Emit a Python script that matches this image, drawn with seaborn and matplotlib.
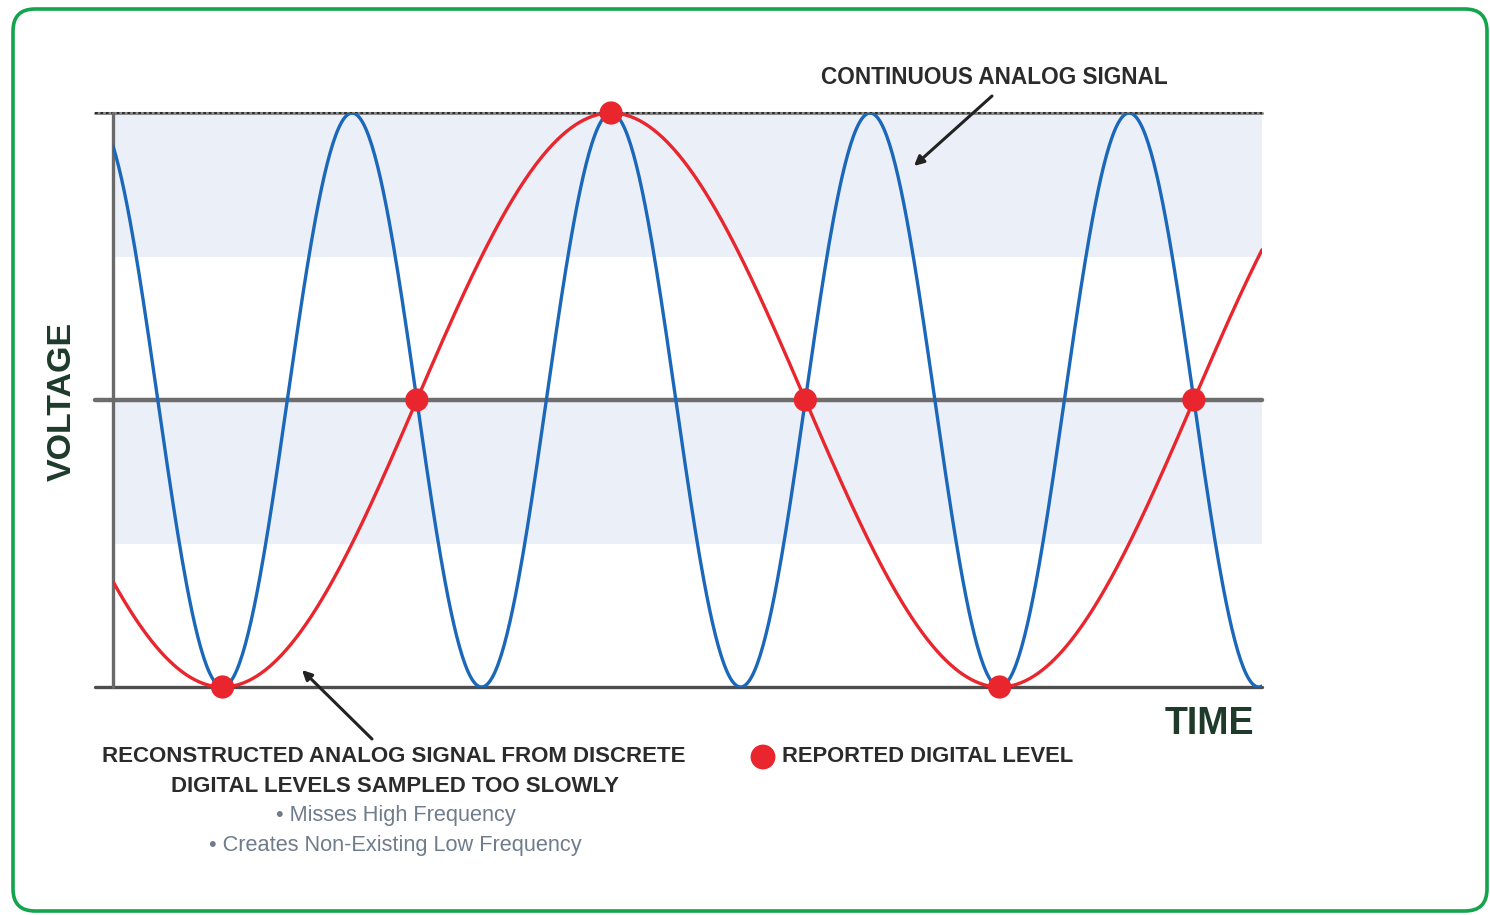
import matplotlib.pyplot as plt
import matplotlib.patches as mpatches
import numpy as np
import pandas as pd
import seaborn as sns

# signal description (time in periods of the analog signal)
t_end = 4.436
analog_freq = 1.0
analog_peak = 0.923          # time of first maximum
alias_freq = 1.0 / 3.0
alias_trough = 0.423         # time of first minimum of reconstructed signal

# samples taken too slowly
sample_times = [0.423, 1.173, 1.923, 2.673, 3.423, 4.173]
sample_levels = [-1, 0, 1, 0, -1, 0]

# voltage bands (shaded)
bands = [(0.5, 1.0), (-0.5, 0.0)]

title_top = "CONTINUOUS ANALOG SIGNAL"
recon_lines = ["RECONSTRUCTED ANALOG SIGNAL FROM DISCRETE",
               "DIGITAL LEVELS SAMPLED TOO SLOWLY"]
bullets = ["• Misses High Frequency", "• Creates Non-Existing Low Frequency"]
legend_label = "REPORTED DIGITAL LEVEL"

BLUE = "#1b67b9"
RED = "#e9262e"
TXT = "#2b2b2b"
LABEL = "#1d3a2a"

sns.set_theme(style="white")
plt.rcParams['font.family'] = ['Liberation Sans', 'DejaVu Sans']

t = np.linspace(0, t_end, 800)
df = pd.DataFrame({
    "time": t,
    "analog": np.cos(2 * np.pi * analog_freq * (t - analog_peak)),
    "recon": -np.cos(2 * np.pi * alias_freq * (t - alias_trough)),
})
samples = pd.DataFrame({"time": sample_times, "level": sample_levels})

W, H = 1490, 915
fig = plt.figure(figsize=(W / 100, H / 100), dpi=100)

# pixel canvas behind the plot: frame and labels
cv = fig.add_axes([0, 0, 1, 1], zorder=0)
cv.set_xlim(0, W)
cv.set_ylim(H, 0)
cv.axis("off")
frame = mpatches.FancyBboxPatch((13, 9), 1474, 902,
                                boxstyle="round,pad=0,rounding_size=22",
                                fc="white", ec="#13a44c", lw=2.6)
cv.add_patch(frame)

ax = fig.add_axes([113 / W, 1 - 687 / H, 1149 / W, 574 / H], zorder=1)
ax.patch.set_alpha(0)

for lo, hi in bands:
    ax.axhspan(lo, hi, color="#ebf0f8", lw=0, zorder=0)

x_left = -18 / 259
ax.plot([x_left, t_end], [1, 1], color="#8a8a8a", lw=2.2, clip_on=False, zorder=2)
ax.plot([x_left, t_end], [1, 1], color="#222222", lw=1.3, ls=(0, (1.5, 1.5)),
        clip_on=False, zorder=2)
ax.plot([x_left, t_end], [0, 0], color="#6d6d6d", lw=3.2, clip_on=False, zorder=2)
ax.plot([x_left, t_end], [-1, -1], color="#4d4d4d", lw=2.4, clip_on=False, zorder=2)
ax.plot([0, 0], [-1, 1], color="#6a6a6a", lw=2.4, clip_on=False, zorder=2)

sns.lineplot(data=df, x="time", y="analog", ax=ax, color=BLUE, lw=2.4, zorder=3)
sns.lineplot(data=df, x="time", y="recon", ax=ax, color=RED, lw=2.4, zorder=4)
sns.scatterplot(data=samples, x="time", y="level", ax=ax, color=RED, s=280,
                edgecolor="none", zorder=5, clip_on=False)
ax.set_xlim(0, t_end)
ax.set_ylim(-1, 1)
ax.axis("off")

# overlay on top for arrows
top = fig.add_axes([0, 0, 1, 1], zorder=2)
top.patch.set_alpha(0)
top.set_xlim(0, W)
top.set_ylim(H, 0)
top.axis("off")
top.annotate("", xy=(914, 166), xytext=(992, 96),
             arrowprops=dict(arrowstyle="-|>", color="#222222", lw=2.2,
                             mutation_scale=14, shrinkA=0, shrinkB=0))
top.annotate("", xy=(302, 670), xytext=(372, 739),
             arrowprops=dict(arrowstyle="-|>", color="#222222", lw=2.2,
                             mutation_scale=14, shrinkA=0, shrinkB=0))

# labels
cv.text(62, 401, "VOLTAGE", rotation=90, ha="center", va="center",
        fontsize=24.5, fontweight="bold", color=LABEL)
cv.text(1209, 724, "TIME", ha="center", va="center",
        fontsize=27, fontweight="bold", color=LABEL)
cv.text(994, 78, title_top, ha="center", va="center",
        fontsize=16.3, fontweight="bold", color=TXT)

cv.text(394, 757, recon_lines[0], ha="center", va="center",
        fontsize=16, fontweight="bold", color=TXT)
cv.text(395, 786, recon_lines[1], ha="center", va="center",
        fontsize=16, fontweight="bold", color=TXT)
cv.text(396, 815, bullets[0], ha="center", va="center",
        fontsize=15.7, color="#6f7c8c")
cv.text(395, 845, bullets[1], ha="center", va="center",
        fontsize=15.7, color="#6f7c8c")

cv.scatter([763], [757], s=320, color=RED, edgecolor="none")
cv.text(782, 757, legend_label, ha="left", va="center",
        fontsize=15.8, fontweight="bold", color=TXT)

fig.savefig("out.png", dpi=100)
